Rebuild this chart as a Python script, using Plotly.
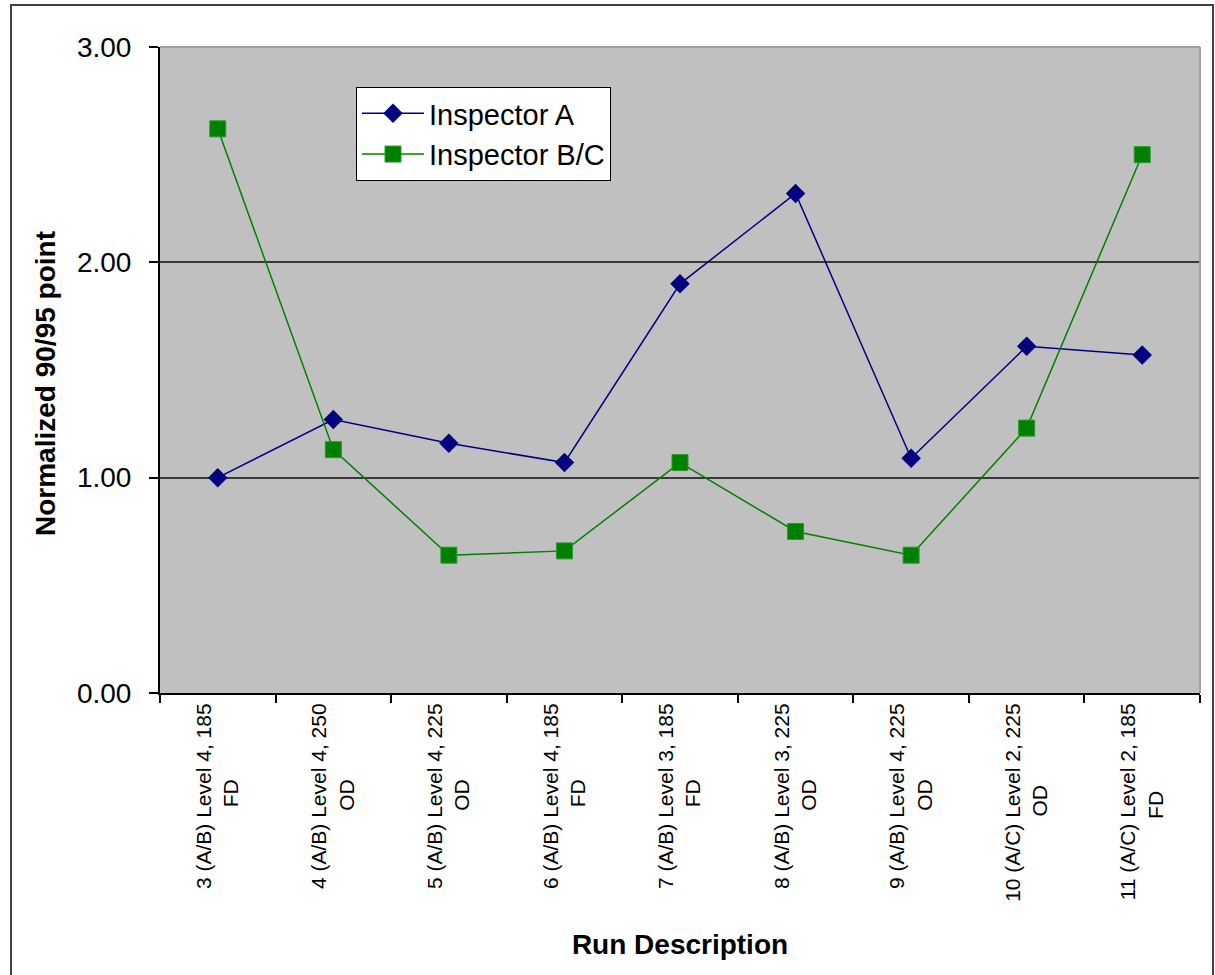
import plotly.graph_objects as go

# Run descriptions: (first line, second line) of each category label
run_line1 = [
    "3 (A/B) Level 4, 185",
    "4 (A/B) Level 4, 250",
    "5 (A/B) Level 4, 225",
    "6 (A/B) Level 4, 185",
    "7 (A/B) Level 3, 185",
    "8 (A/B) Level 3, 225",
    "9 (A/B) Level 4, 225",
    "10 (A/C) Level 2, 225",
    "11 (A/C) Level 2, 185",
]
run_line2 = ["FD", "OD", "OD", "FD", "FD", "OD", "OD", "OD", "FD"]

inspector_a = [1.00, 1.27, 1.16, 1.07, 1.90, 2.32, 1.09, 1.61, 1.57]
inspector_bc = [2.62, 1.13, 0.64, 0.66, 1.07, 0.75, 0.64, 1.23, 2.50]

y_ticks = [0, 1, 2, 3]

# Approximate Arial advance widths (em) used to centre the second label line
_W = {" ": 0.278, "(": 0.333, ")": 0.333, "/": 0.278, ",": 0.278, "A": 0.667,
      "B": 0.667, "C": 0.722, "L": 0.556, "e": 0.556, "v": 0.5, "l": 0.222,
      "F": 0.611, "D": 0.722, "O": 0.778}


def _width(s):
    return sum(_W.get(ch, 0.556) for ch in s)


def two_line_label(a, b):
    pad = round((_width(a) - _width(b)) / 2 / 0.278)
    return a + "<br>" + b + "\u00a0" * max(pad, 0)


categories = [f"{a} {b}" for a, b in zip(run_line1, run_line2)]
tick_text = [two_line_label(a, b) for a, b in zip(run_line1, run_line2)]

W, H = 1215, 975
ML, MR, MT, MB = 160, 15, 47, 282
PW, PH = W - ML - MR, H - MT - MB

fig = go.Figure()
fig.add_trace(go.Scatter(
    x=categories, y=inspector_a, name="Inspector A", mode="lines+markers",
    line=dict(color="#000080", width=1.5),
    marker=dict(symbol="diamond", size=15, color="#000080",
                line=dict(color="#000080", width=0)),
))
fig.add_trace(go.Scatter(
    x=categories, y=inspector_bc, name="Inspector B/C", mode="lines+markers",
    line=dict(color="#008000", width=1.5),
    marker=dict(symbol="square", size=16, color="#008000",
                line=dict(color="#2a9a2a", width=1)),
))


def px_x(p):
    return (p - ML) / PW


def px_y(p):
    return (H - MB - p) / PH


shapes = [
    # light frame on the top and right of the plotting area
    dict(type="line", xref="paper", yref="paper", x0=0, x1=1, y0=1, y1=1,
         line=dict(color="#a0a0a0", width=2), layer="above"),
    dict(type="line", xref="paper", yref="paper", x0=1, x1=1, y0=0, y1=1,
         line=dict(color="#a0a0a0", width=2), layer="above"),
    # outer chart border
    dict(type="rect", xref="paper", yref="paper",
         x0=px_x(11), x1=px_x(1213), y0=px_y(1000), y1=px_y(5),
         line=dict(color="#404040", width=2), fillcolor="rgba(0,0,0,0)"),
]

annotations = [
    dict(text="<b>Normalized 90/95 point</b>", xref="paper", yref="paper",
         x=px_x(45), y=px_y(384), xanchor="center", yanchor="middle",
         textangle=-90, showarrow=False,
         font=dict(size=28, color="black")),
]

fig.update_layout(
    width=W, height=H,
    margin=dict(l=ML, r=MR, t=MT, b=MB, pad=0),
    paper_bgcolor="white",
    plot_bgcolor="#c0c0c0",
    font=dict(family="Liberation Sans, Arial, sans-serif", color="black"),
    showlegend=True,
    legend=dict(
        x=px_x(356), y=px_y(87), xanchor="left", yanchor="top",
        bgcolor="white", bordercolor="black", borderwidth=1,
        font=dict(size=29, color="black"),
        itemwidth=62,
        tracegroupgap=0,
    ),
    shapes=shapes,
    annotations=annotations,
)

fig.update_xaxes(
    type="category",
    tickmode="array", tickvals=categories, ticktext=tick_text,
    tickangle=-90,
    tickfont=dict(size=21, color="black"),
    ticks="outside", ticklen=8, tickcolor="black", tickwidth=1.5,
    tickson="boundaries",
    showline=True, linecolor="black", linewidth=2,
    showgrid=False, zeroline=False,
    range=[-0.5, len(categories) - 0.5],
    title=dict(text="<b>Run Description</b>", font=dict(size=28, color="black"),
               standoff=34),
)

fig.update_yaxes(
    range=[0, 3],
    tickmode="array", tickvals=y_ticks,
    tickformat=".2f",
    tickfont=dict(size=28, color="black"),
    ticks="outside", ticklen=9, tickcolor="black", tickwidth=1.5,
    ticklabelstandoff=12,
    showline=True, linecolor="black", linewidth=2,
    showgrid=True, gridcolor="#383838", gridwidth=2,
    zeroline=False,
)

fig.write_html("out.html")
